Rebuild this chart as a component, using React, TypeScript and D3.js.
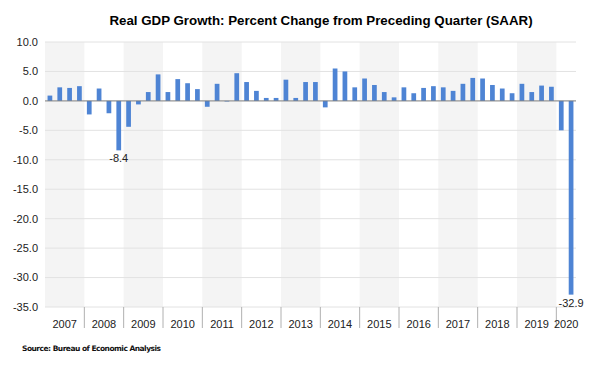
import { scaleBand, scaleLinear, range, formatLocale } from "d3";

// quarterly real GDP growth, percent change SAAR, 2007 Q1 .. 2020 Q2
const years = [2007, 2008, 2009, 2010, 2011, 2012, 2013, 2014, 2015, 2016, 2017, 2018, 2019, 2020];
const quartersPerYear = [4, 4, 4, 4, 4, 4, 4, 4, 4, 4, 4, 4, 4, 2];
const growth = [
  0.9, 2.3, 2.2, 2.5,
  -2.3, 2.1, -2.1, -8.4,
  -4.4, -0.6, 1.5, 4.5,
  1.5, 3.7, 3.0, 2.0,
  -1.0, 2.9, -0.1, 4.7,
  3.2, 1.7, 0.5, 0.5,
  3.6, 0.5, 3.2, 3.2,
  -1.1, 5.5, 5.0, 2.3,
  3.8, 2.7, 1.5, 0.6,
  2.3, 1.3, 2.2, 2.5,
  2.3, 1.7, 2.9, 3.9,
  3.8, 2.7, 2.1, 1.3,
  2.9, 1.5, 2.6, 2.4,
  -5.0, -32.9,
];
const yTicks = [10, 5, 0, -5, -10, -15, -20, -25, -30, -35];
const labelled = [7, 53]; // quarters with a value label

const W = 600;
const H = 365;
const left = 45;
const right = 576;
const top = 42;
const bottom = 307;

// plain hyphen for negatives, like the source chart
const fmt = formatLocale({ decimal: ".", thousands: ",", grouping: [3], currency: ["$", ""], minus: "-" }).format(".1f");

export default function App() {
  const x = scaleBand<number>()
    .domain(range(growth.length))
    .range([left, right])
    .paddingInner(0.52)
    .paddingOuter(0.26);
  const y = scaleLinear().domain([-35, 10]).range([bottom, top]);
  const step = x.step();

  // year spans in quarter index
  let start = 0;
  const spans = years.map((yr, i) => {
    const s = start;
    start += quartersPerYear[i];
    return { yr, i, s, e: start };
  });
  const qx = (q: number) => left + q * step;

  return (
    <svg width={W} height={H} style={{ position: "absolute", left: 0, top: 0 }}>
      <rect width={W} height={H} fill="#fff" />
      <text
        x={321}
        y={25}
        textAnchor="middle"
        fontFamily="Liberation Sans, Arial, sans-serif"
        fontWeight="bold"
        fontSize={13.3}
        fill="#000"
      >
        Real GDP Growth: Percent Change from Preceding Quarter (SAAR)
      </text>

      {spans.map((d) =>
        d.i % 2 === 0 ? (
          <rect key={"b" + d.yr} x={qx(d.s)} y={top} width={qx(d.e) - qx(d.s)} height={bottom - top} fill="#f4f4f4" />
        ) : null
      )}

      {yTicks.map((t) => (
        <g key={t}>
          <line x1={left} x2={right} y1={y(t)} y2={y(t)} stroke="#e2e2e2" strokeWidth={1} />
          <text
            x={38}
            y={y(t)}
            dy="0.35em"
            textAnchor="end"
            fontFamily="Liberation Sans, Arial, sans-serif"
            fontSize={11}
            fill="#222"
          >
            {fmt(t)}
          </text>
        </g>
      ))}

      {growth.map((v, i) => (
        <rect
          key={i}
          x={x(i)}
          y={Math.min(y(v), y(0))}
          width={x.bandwidth()}
          height={Math.abs(y(v) - y(0))}
          fill="#4e84d4"
        />
      ))}
      <line x1={left} x2={right} y1={y(0)} y2={y(0)} stroke="#7a7a7a" strokeWidth={1.2} opacity={0.7} />

      {labelled.map((i) => (
        <text
          key={"l" + i}
          x={(x(i) ?? 0) + x.bandwidth() / 2}
          y={y(growth[i]) + 12}
          textAnchor="middle"
          fontFamily="Liberation Sans, Arial, sans-serif"
          fontSize={11}
          fill="#222"
        >
          {fmt(growth[i])}
        </text>
      ))}

      {spans.slice(1).map((d) => (
        <line key={"t" + d.yr} x1={qx(d.s)} x2={qx(d.s)} y1={bottom} y2={328} stroke="#b0b0b0" />
      ))}
      {spans.map((d) => (
        <text
          key={"y" + d.yr}
          x={(qx(d.s) + qx(d.e)) / 2}
          y={328}
          textAnchor="middle"
          fontFamily="Liberation Sans, Arial, sans-serif"
          fontSize={11}
          fill="#222"
        >
          {d.yr}
        </text>
      ))}

      <text x={22} y={351} fontFamily="DejaVu Sans, sans-serif" fontWeight="bold" fontSize={7.5} textLength={139} fill="#111">
        Source: Bureau of Economic Analysis
      </text>
    </svg>
  );
}
